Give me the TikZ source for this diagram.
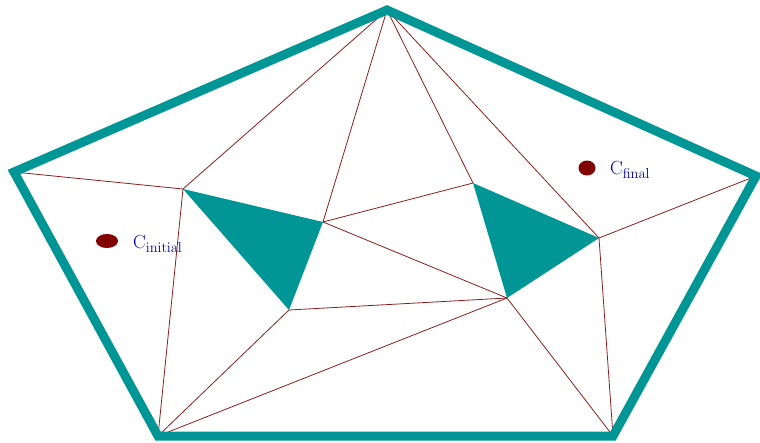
\documentclass[tikz,border=0pt]{standalone}
\usetikzlibrary{shapes}
\definecolor{wallteal}{RGB}{0,150,150}
\definecolor{edgered}{RGB}{140,30,30}
\definecolor{dotred}{RGB}{130,0,0}
\definecolor{labelblue}{RGB}{0,0,190}

\begin{document}
\begin{tikzpicture}[x=1pt,y=-1pt]
\tikzstyle{wall}=[draw=wallteal, line width=9pt, line join=miter];
\tikzstyle{obstacle}=[fill=wallteal, draw=none];
\tikzstyle{edge}=[draw=edgered, line width=0.8pt];
\tikzstyle{config}=[fill=dotred, shape=ellipse, inner sep=0pt];
\tikzstyle{clabel}=[text=labelblue, anchor=base west, inner sep=0pt, font=\fontsize{19}{21}\selectfont];

\useasboundingbox (0,0) rectangle (760,442);

% outer pentagon
\coordinate (p1) at (387,10);
\coordinate (p2) at (14,172);
\coordinate (p3) at (158,436);
\coordinate (p4) at (613,436);
\coordinate (p5) at (756,176);

% left obstacle
\coordinate (a1) at (183,189);
\coordinate (a2) at (323,222);
\coordinate (a3) at (289,310);

% right obstacle
\coordinate (b1) at (473,183);
\coordinate (b2) at (599,238);
\coordinate (b3) at (507,298);

\fill[obstacle] (a1) -- (a2) -- (a3) -- cycle;
\fill[obstacle] (b1) -- (b2) -- (b3) -- cycle;

\draw[edge] (p1) -- (a1);
\draw[edge] (p1) -- (a2);
\draw[edge] (p1) -- (b1);
\draw[edge] (p1) -- (b2);
\draw[edge] (p2) -- (a1);
\draw[edge] (a1) -- (p3);
\draw[edge] (a3) -- (p3);
\draw[edge] (b3) -- (p3);
\draw[edge] (a2) -- (b1);
\draw[edge] (a2) -- (b3);
\draw[edge] (a3) -- (b3);
\draw[edge] (b3) -- (p4);
\draw[edge] (b2) -- (p4);
\draw[edge] (b2) -- (p5);

\draw[wall] (p1) -- (p2) -- (p3) -- (p4) -- (p5) -- cycle;

\node[config, minimum width=22pt, minimum height=14pt] (cinit) at (107,241) {};
\node[config, minimum width=17pt, minimum height=15pt] (cfinal) at (587,168) {};

\node[clabel] (linit) at (133,248) {C$_{\mathrm{initial}}$};
\node[clabel] (lfinal) at (610,174) {C$_{\mathrm{final}}$};

\end{tikzpicture}
\end{document}
